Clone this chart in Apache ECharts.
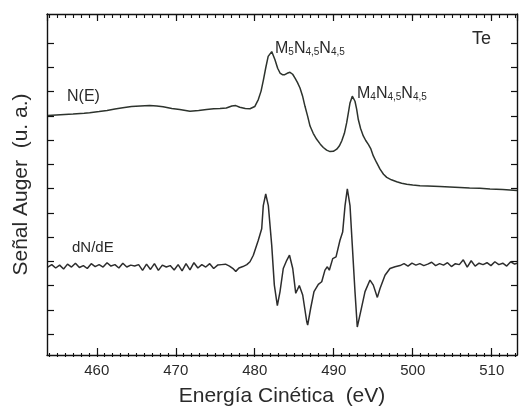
<!DOCTYPE html>
<html>
<head>
<meta charset="utf-8">
<script src="https://cdn.jsdelivr.net/npm/echarts@6/dist/echarts.min.js"></script>
<style>
  html, body { margin: 0; padding: 0; background: #fff; }
  #chart { width: 519px; height: 412px; }
</style>
</head>
<body>
<div id="chart"></div>
<script>
// N(E) spectrum (energy in eV, intensity in arbitrary units)
const nE_x = [453.8, 455.4, 457.0, 458.4, 459.1, 460.3, 461.3, 462.3, 463.3, 464.4, 465.5, 466.7,
  467.6, 468.4, 469.5, 470.5, 471.8, 472.9, 473.9, 474.8, 475.6, 476.4, 477.1, 477.6, 478.1, 478.8,
  479.4, 480.0, 480.45, 480.8, 481.1, 481.4, 481.7, 482.15, 482.56, 482.9, 483.2, 483.5, 483.8,
  484.1, 484.46, 484.8, 485.1, 485.4, 485.73, 486.05, 486.36, 486.7, 487.0, 487.4, 487.84, 488.3,
  488.68, 489.1, 489.53, 489.95, 490.38, 490.7, 491.01, 491.35, 491.64, 491.85, 492.06, 492.35,
  492.69, 492.9, 493.11, 493.4, 493.74, 494.05, 494.38, 494.7, 495.01, 495.4, 495.86, 496.3,
  496.71, 497.3, 497.97, 498.6, 499.24, 500.0, 500.92, 501.9, 503.45, 504.7, 505.98, 507.2,
  508.5, 509.78, 511.4, 513.2];
const nE_y = [8.99, 9.02, 9.05, 9.08, 9.1, 9.15, 9.2, 9.26, 9.31, 9.36, 9.38, 9.4,
  9.38, 9.35, 9.28, 9.24, 9.16, 9.2, 9.24, 9.27, 9.28, 9.3, 9.38, 9.4, 9.33, 9.28,
  9.27, 9.36, 9.65, 10.0, 10.47, 10.98, 11.44, 11.64, 11.3, 10.95, 10.75, 10.68, 10.68,
  10.74, 10.78, 10.7, 10.54, 10.36, 10.13, 9.8, 9.37, 8.95, 8.55, 8.25, 8.0, 7.8,
  7.66, 7.55, 7.49, 7.5, 7.59, 7.72, 7.93, 8.25, 8.69, 9.1, 9.51, 9.79,
  9.58, 9.25, 8.82, 8.45, 8.14, 7.95, 7.79, 7.6, 7.31, 7.05, 6.76, 6.55,
  6.42, 6.32, 6.24, 6.18, 6.14, 6.1, 6.07, 6.06, 6.04, 6.02, 6.0, 5.98,
  5.97, 5.94, 5.92, 5.88];

// dN/dE derivative spectrum
const dN_x = [453.8, 454.3, 454.8, 455.3, 455.8, 456.3, 456.8, 457.3, 457.8, 458.3, 458.8, 459.3,
  459.8, 460.3, 460.8, 461.3, 461.8, 462.3, 462.8, 463.3, 463.8, 464.3, 464.8, 465.3, 465.8,
  466.3, 466.8, 467.3, 467.8, 468.3, 468.8, 469.3, 469.8, 470.3, 470.8, 471.3, 471.8, 472.3,
  472.8, 473.3, 473.8, 474.3, 474.8, 475.3, 475.8, 476.3, 476.8, 477.3, 477.6, 478.0, 478.5,
  479.0, 479.4, 479.82, 480.45, 480.88, 481.08, 481.39, 481.72, 482.15, 482.48, 482.86, 483.2,
  483.61, 484.05, 484.4, 484.81, 485.19, 485.64, 486.07, 486.58, 486.7, 487.08, 487.5, 488.05,
  488.48, 488.89, 489.19, 489.44, 489.87, 490.29, 490.79, 491.13, 491.43, 491.72, 492.06, 492.35,
  492.69, 492.98, 493.41, 493.96, 494.59, 495.01, 495.52, 495.86, 496.49, 497.12, 497.76, 498.39,
  498.9, 499.4, 499.9, 500.4, 500.9, 501.4, 501.9, 502.4, 502.9, 503.4, 503.9, 504.4, 504.9,
  505.4, 505.9, 506.4, 506.9, 507.4, 507.9, 508.4, 508.9, 509.4, 509.9, 510.4, 510.9, 511.4,
  511.9, 512.4, 512.9, 513.2];
const dN_y = [2.70, 2.80, 2.66, 2.78, 2.62, 2.82, 2.70, 2.86, 2.68, 2.76, 2.64, 2.84,
  2.72, 2.80, 2.70, 2.88, 2.74, 2.80, 2.66, 2.86, 2.70, 2.78, 2.74, 2.80, 2.56,
  2.82, 2.60, 2.84, 2.56, 2.78, 2.70, 2.76, 2.58, 2.80, 2.54, 2.84, 2.58, 2.88,
  2.66, 2.80, 2.70, 2.84, 2.64, 2.78, 2.80, 2.82, 2.74, 2.62, 2.52, 2.66, 2.72,
  2.80, 2.92, 3.19, 3.81, 4.29, 5.25, 5.73, 5.25, 3.60, 1.95, 1.10, 1.68,
  2.64, 2.98, 3.19, 2.64, 1.61, 1.93, 1.54, 0.44, 0.29, 0.99, 1.68, 1.98,
  2.09, 2.57, 2.71, 2.57, 3.05, 3.12, 3.81, 4.15, 5.25, 5.94, 5.25, 3.60,
  1.68, 0.21, 0.85, 1.68, 2.16, 1.95, 1.44, 1.81, 2.36, 2.64, 2.71, 2.76,
  2.84, 2.74, 2.86, 2.78, 2.84, 2.76, 2.82, 2.90, 2.76, 2.84, 2.78, 2.88, 2.72,
  2.84, 2.80, 3.00, 2.70, 2.96, 2.74, 2.86, 2.80, 2.88, 2.76, 2.92, 2.80, 2.86,
  2.74, 2.92, 2.82, 2.86];

const FONT = 'Liberation Sans, Arial, sans-serif';
const INK = '#2a2a2a';

const chart = echarts.init(document.getElementById('chart'), null, { renderer: 'canvas' });

const frameLine = { show: true, onZero: false, lineStyle: { color: '#111', width: 1.4 } };
const noLine = { show: false, onZero: false };
const noSplit = { show: false };

chart.setOption({
  animation: false,
  backgroundColor: '#fff',
  grid: [
    { left: 47, right: 2, top: 14, bottom: 55 },          // data + frame
    { left: 49.37, right: 3.6, top: 14, bottom: 55 },     // 1 eV minor ticks
    { left: 47, right: 2, top: 43, bottom: 78 }           // y ticks
  ],
  xAxis: [
    {
      gridIndex: 0, type: 'value', position: 'bottom', min: 453.7, max: 513.2,
      minInterval: 10, maxInterval: 10,
      axisLine: frameLine,
      axisTick: { show: true, inside: true, length: 7, lineStyle: { color: '#111', width: 1.2 } },
      axisLabel: { show: true, margin: 8, fontSize: 15, color: INK, fontFamily: FONT,
        showMinLabel: false, showMaxLabel: false },
      splitLine: noSplit,
      name: 'Energía Cinética  (eV)', nameLocation: 'middle', nameGap: 31,
      nameTextStyle: { fontSize: 21, color: INK, fontFamily: FONT }
    },
    {
      gridIndex: 0, type: 'value', position: 'top', min: 453.7, max: 513.2,
      minInterval: 10, maxInterval: 10,
      axisLine: frameLine,
      axisTick: { show: true, inside: true, length: 7, lineStyle: { color: '#111', width: 1.2 } },
      axisLabel: { show: false }, splitLine: noSplit
    },
    {
      gridIndex: 1, type: 'value', position: 'bottom', min: 454, max: 513, interval: 1,
      axisLine: noLine,
      axisTick: { show: true, inside: true, length: 4, lineStyle: { color: '#111', width: 1.1 } },
      axisLabel: { show: false }, splitLine: noSplit
    },
    {
      gridIndex: 1, type: 'value', position: 'top', min: 454, max: 513, interval: 1,
      axisLine: noLine,
      axisTick: { show: true, inside: true, length: 4, lineStyle: { color: '#111', width: 1.1 } },
      axisLabel: { show: false }, splitLine: noSplit
    },
    { gridIndex: 2, type: 'value', show: false, min: 0, max: 1, axisLine: noLine, splitLine: noSplit }
  ],
  yAxis: [
    {
      gridIndex: 0, type: 'value', position: 'left', min: -0.95, max: 13.2,
      axisLine: frameLine, axisTick: { show: false }, axisLabel: { show: false },
      splitLine: noSplit,
      name: 'Señal Auger  (u. a.)', nameLocation: 'middle', nameGap: 15,
      nameTextStyle: { fontSize: 21, color: INK, fontFamily: FONT }
    },
    {
      gridIndex: 0, type: 'value', position: 'right', min: -0.95, max: 13.2,
      axisLine: frameLine, axisTick: { show: false }, axisLabel: { show: false },
      splitLine: noSplit
    },
    {
      gridIndex: 2, type: 'value', position: 'left', min: 0, max: 12, interval: 1,
      axisLine: noLine,
      axisTick: { show: true, inside: true, length: 7, lineStyle: { color: '#111', width: 1.2 } },
      axisLabel: { show: false }, splitLine: noSplit
    },
    {
      gridIndex: 2, type: 'value', position: 'right', min: 0, max: 12, interval: 1,
      axisLine: noLine,
      axisTick: { show: true, inside: true, length: 6, lineStyle: { color: '#111', width: 1.2 } },
      axisLabel: { show: false }, splitLine: noSplit
    },
    { gridIndex: 1, type: 'value', show: false, min: 0, max: 1, axisLine: noLine, splitLine: noSplit }
  ],
  series: [
    {
      name: 'N(E)', type: 'line', xAxisIndex: 0, yAxisIndex: 0,
      showSymbol: false, symbol: 'none',
      lineStyle: { color: '#2d332d', width: 1.5 },
      data: nE_x.map((x, i) => [x, nE_y[i]])
    },
    {
      name: 'dN/dE', type: 'line', xAxisIndex: 0, yAxisIndex: 0,
      showSymbol: false, symbol: 'none',
      lineStyle: { color: '#2d2d2d', width: 1.5 },
      data: dN_x.map((x, i) => [x, dN_y[i]])
    }
  ],
  graphic: [
    { type: 'text', x: 67, y: 89, style: { text: 'N(E)', font: '16px ' + FONT, fill: INK } },
    { type: 'text', x: 72, y: 240, style: { text: 'dN/dE', font: '15px ' + FONT, fill: INK } },
    { type: 'text', x: 472, y: 30, style: { text: 'Te', font: '18px ' + FONT, fill: INK } },
    {
      type: 'text', x: 275, y: 41,
      style: {
        text: '{m|M}{s|5}{m|N}{s|4,5}{m|N}{s|4,5}',
        fill: INK,
        rich: {
          m: { fontSize: 16, lineHeight: 16, fontFamily: FONT, fill: INK },
          s: { fontSize: 10, lineHeight: 8, fontFamily: FONT, fill: INK, verticalAlign: 'bottom' }
        }
      }
    },
    {
      type: 'text', x: 357, y: 86,
      style: {
        text: '{m|M}{s|4}{m|N}{s|4,5}{m|N}{s|4,5}',
        fill: INK,
        rich: {
          m: { fontSize: 16, lineHeight: 16, fontFamily: FONT, fill: INK },
          s: { fontSize: 10, lineHeight: 8, fontFamily: FONT, fill: INK, verticalAlign: 'bottom' }
        }
      }
    }
  ]
});
</script>
</body>
</html>
